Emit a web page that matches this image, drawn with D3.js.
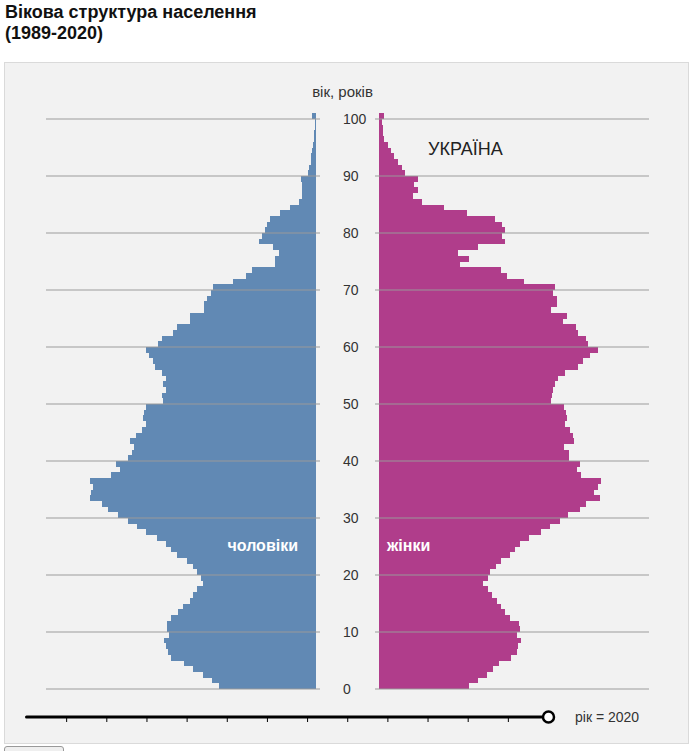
<meta charset="utf-8">
<script src="https://d3js.org/d3.v7.js"></script>
<style>
body {
  margin: 0;
  background-color: white;
  font-family: Arial, 'Liberation Sans', sans-serif;
}
.title {
  position: absolute;
  left: 5px;
  top: 2px;
  font-weight: bold;
  font-size: 18px;
  line-height: 21px;
  color: #111;
}
#chart {
  position: absolute;
  left: 0;
  top: 0;
}
.playbtn {
  position: absolute;
  left: 4px;
  top: 746px;
  width: 60px;
  height: 24px;
  border: 1px solid #999;
  border-radius: 3px;
  background: #efefef;
}
</style>
<div class="title">Вікова структура населення<br>(1989-2020)</div>
<div id="chart"></div>
<button class="playbtn" type="button"></button>
<script>
// вік 0..100, тис. осіб, 2020 рік
var ages = d3.range(0, 101);
var males = [
  160.5, 173, 188, 204, 220, 240, 245, 249, 252, 243.5,
  248, 248, 240, 228.5, 221, 210, 205, 197, 187, 191,
  197, 205, 215, 231, 241, 249, 264.5, 282, 298, 313,
  328, 345, 356, 375, 373.5, 370, 375, 341, 325, 332,
  311.5, 306, 302, 309, 299, 289, 282, 288, 285.5, 282,
  254.5, 256, 249, 254.5, 249, 256, 267, 270, 278, 282,
  263, 256, 238, 231, 209, 209, 186, 186, 181, 175,
  170.5, 138, 116, 107, 68, 68, 61, 72, 94, 90,
  85, 82, 76, 60, 43, 29, 23, 23, 23, 25,
  14, 11, 9, 7.5, 6, 4.5, 3.5, 3, 2, 1.5,
  6
];
var females = [
  149.5, 164, 179, 190, 199, 219, 228.5, 231, 236, 228.5,
  234, 232.5, 217.5, 210, 202.5, 195.5, 188, 181.5, 173, 180.5,
  184, 194, 202.5, 217.5, 226, 234, 249, 269, 284, 300.5,
  314, 334, 343, 367, 357, 364, 368.5, 335, 328, 334,
  315.5, 315.5, 307.5, 324, 322.5, 317, 309, 313, 310, 307.5,
  285.5, 288, 289, 293, 297, 309, 330, 339, 350, 363,
  346.5, 343, 330, 326.5, 306, 311.5, 285.5, 295, 295, 289,
  292, 241, 212, 202.5, 134.5, 149.5, 131.5, 164, 209, 204.5,
  209, 204.5, 192.5, 145.5, 108.5, 72, 57, 65, 58.5, 65,
  44, 38.5, 31, 25.5, 20, 14.5, 9, 7, 6, 5.5,
  9
];
var gridAges = d3.range(0, 101, 10);
var years = [1989, 2020];
var currentYear = 2020;
var sliderSteps = 13;

var width = 693, height = 745;
var maleBase = 316, femaleBase = 379;

var svg = d3.select("#chart")
  .append("svg")
    .attr("width", width)
    .attr("height", height);

// panel
svg.append("rect")
  .attr("x", 4.5)
  .attr("y", 62.5)
  .attr("width", 684)
  .attr("height", 681)
  .style("fill", "#f2f2f2")
  .style("stroke", "#dadada");

var y = d3.scaleLinear()
  .domain([0, 100])
  .range([689, 119]);

var x = d3.scaleLinear()
  .domain([0, 450])
  .range([0, 271]);

// male bars
svg.append("g")
  .style("shape-rendering", "crispEdges")
  .selectAll("rect")
  .data(ages)
  .enter()
  .append("rect")
    .attr("x", function(d) { return maleBase - x(males[d]); })
    .attr("y", function(d) { return y(d + 1); })
    .attr("width", function(d) { return x(males[d]); })
    .attr("height", function(d) { return y(d) - y(d + 1); })
    .style("fill", "#6189b4");

// female bars
svg.append("g")
  .style("shape-rendering", "crispEdges")
  .selectAll("rect")
  .data(ages)
  .enter()
  .append("rect")
    .attr("x", femaleBase)
    .attr("y", function(d) { return y(d + 1); })
    .attr("width", function(d) { return x(females[d]); })
    .attr("height", function(d) { return y(d) - y(d + 1); })
    .style("fill", "#b03d8b");

// gridlines (over bars)
var grid = svg.append("g")
  .style("stroke", "#999")
  .style("stroke-opacity", 0.65)
  .style("stroke-width", 1.5);
grid.selectAll(".gl")
  .data(gridAges)
  .enter()
  .append("line")
    .attr("x1", 46).attr("x2", 320)
    .attr("y1", function(d) { return y(d); })
    .attr("y2", function(d) { return y(d); });
grid.selectAll(".gr")
  .data(gridAges)
  .enter()
  .append("line")
    .attr("x1", 375).attr("x2", 649)
    .attr("y1", function(d) { return y(d); })
    .attr("y2", function(d) { return y(d); });

// age labels
var ageAxis = svg.append("g")
  .attr("transform", "translate(340,0)")
  .call(d3.axisRight(y).tickValues(gridAges).tickSize(0).tickPadding(3));
ageAxis.select(".domain").remove();
ageAxis.selectAll("text")
  .style("font-family", "Arial, 'Liberation Sans', sans-serif")
  .style("font-size", "14px")
  .style("fill", "#333");

svg.append("text")
  .attr("x", 342.5)
  .attr("y", 92)
  .attr("dy", "0.35em")
  .attr("text-anchor", "middle")
  .style("font-size", "15px")
  .style("fill", "#333")
  .text("вік, років");

svg.append("text")
  .attr("x", 428)
  .attr("y", 155)
  .style("font-size", "18px")
  .style("fill", "#222")
  .text("УКРАЇНА");

svg.append("text")
  .attr("x", 298)
  .attr("y", 551)
  .attr("text-anchor", "end")
  .style("font-size", "16px")
  .style("font-weight", "bold")
  .style("fill", "white")
  .text("чоловіки");

svg.append("text")
  .attr("x", 387)
  .attr("y", 551)
  .style("font-size", "16px")
  .style("font-weight", "bold")
  .style("fill", "white")
  .text("жінки");

// year slider
var s = d3.scaleLinear()
  .domain([0, sliderSteps])
  .range([26.5, 548.5]);
var yearPos = d3.scaleLinear()
  .domain(years)
  .range([0, sliderSteps]);
var slider = svg.append("g").attr("transform", "translate(0,717)");
slider.append("line")
  .attr("x1", s(0)).attr("x2", s(sliderSteps))
  .style("stroke", "#000")
  .style("stroke-width", 3)
  .style("stroke-linecap", "round");
slider.selectAll(".tick")
  .data(d3.range(1, sliderSteps))
  .enter()
  .append("line")
    .attr("x1", function(d) { return s(d); })
    .attr("x2", function(d) { return s(d); })
    .attr("y1", 0).attr("y2", 5)
    .style("stroke", "#000")
    .style("stroke-width", 1);
slider.append("circle")
  .attr("cx", s(yearPos(currentYear)))
  .attr("r", 5.5)
  .style("fill", "white")
  .style("stroke", "#000")
  .style("stroke-width", 2.5);
slider.append("text")
  .attr("x", 575)
  .attr("dy", "0.35em")
  .style("font-size", "14px")
  .style("fill", "#333")
  .text("рік = " + currentYear);
</script>
